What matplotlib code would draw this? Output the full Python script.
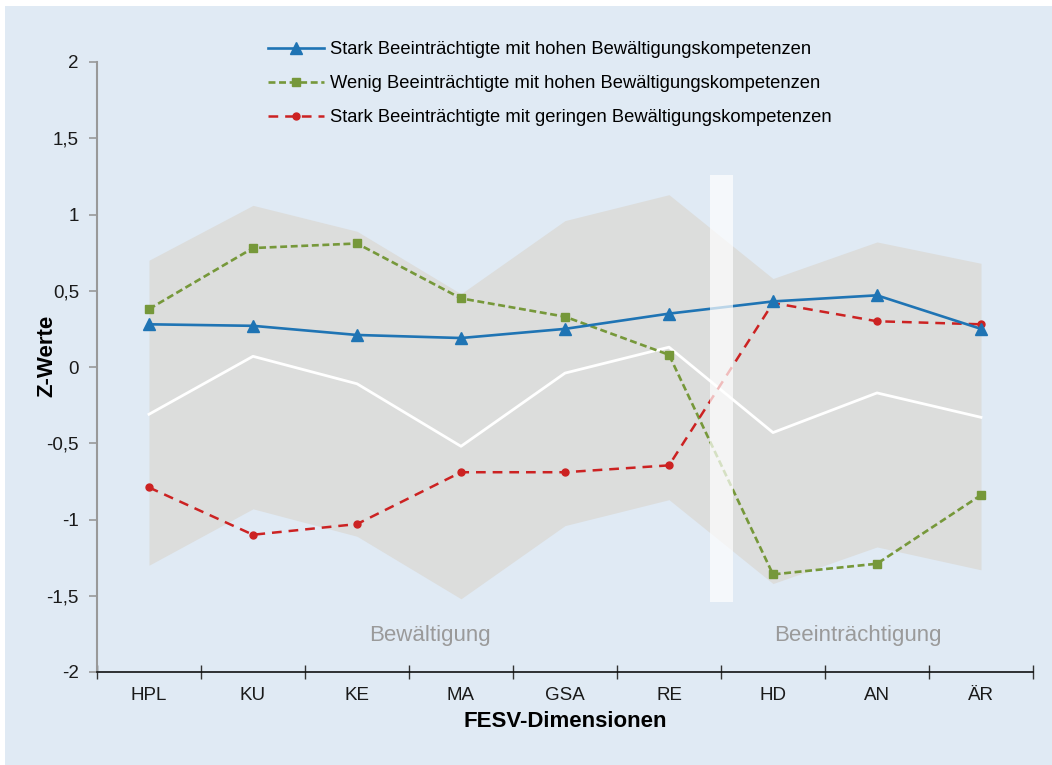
import matplotlib
matplotlib.use("Agg")
import matplotlib.pyplot as plt
from matplotlib.patches import Rectangle

plt.rcParams['font.family'] = ['Liberation Sans', 'DejaVu Sans']
plt.rcParams['lines.scale_dashes'] = False

dimensions = ['HPL', 'KU', 'KE', 'MA', 'GSA', 'RE', 'HD', 'AN', 'ÄR']
band_upper = [0.70, 1.06, 0.89, 0.48, 0.96, 1.13, 0.58, 0.82, 0.68]
band_lower = [-1.30, -0.93, -1.11, -1.52, -1.04, -0.87, -1.42, -1.18, -1.33]
norm_mean = [-0.31, 0.07, -0.11, -0.52, -0.04, 0.13, -0.43, -0.17, -0.33]

stark_hoch = [0.28, 0.27, 0.21, 0.19, 0.25, 0.35, 0.43, 0.47, 0.25]
wenig_hoch = [0.38, 0.78, 0.81, 0.45, 0.33, 0.08, -1.36, -1.29, -0.84]
stark_gering = [-0.79, -1.10, -1.03, -0.69, -0.69, -0.645, 0.42, 0.30, 0.28]

labels = ['Stark Beeinträchtigte mit hohen Bewältigungskompetenzen',
          'Wenig Beeinträchtigte mit hohen Bewältigungskompetenzen',
          'Stark Beeinträchtigte mit geringen Bewältigungskompetenzen']

bg = '#e0eaf4'
fig = plt.figure(figsize=(10.52, 7.65), dpi=100)
fig.patches.append(Rectangle((5 / 1052, 0), 1, 1 - 6 / 765, transform=fig.transFigure,
                             facecolor=bg, edgecolor='none', zorder=-10))

ax = fig.add_axes([97 / 1052, 1 - 672 / 765, 936 / 1052, 610 / 765])
ax.set_facecolor(bg)
ax.patch.set_alpha(0)

x = list(range(len(dimensions)))
ax.fill_between(x, band_lower, band_upper, color='#dcdddc', lw=0, zorder=1)
ax.plot(x, norm_mean, color='white', lw=2.0, zorder=2)

ax.plot(x, stark_hoch, color='#1f74b4', lw=1.9, marker='^', ms=8.5, zorder=4, label=labels[0])
ax.plot(x, wenig_hoch, color='#76983a', lw=1.9, dashes=(5, 2.6), marker='s', ms=5.5, zorder=3, label=labels[1])
ax.plot(x, stark_gering, color='#cc2222', lw=1.8, dashes=(7, 5), marker='o', ms=5, zorder=3, label=labels[2])

# white separator between coping and impairment dimensions
ax.add_patch(Rectangle((5.39, -1.54), 0.23, 2.8, facecolor='white', alpha=0.7, lw=0, zorder=5))

ax.text(2.70, -1.76, 'Bewältigung', color='#9a9a9a', fontsize=16, ha='center', va='center')
ax.text(6.82, -1.76, 'Beeinträchtigung', color='#9a9a9a', fontsize=16, ha='center', va='center')

ax.set_xlim(-0.5, 8.5)
ax.set_ylim(-2, 2)
ax.set_xticks([i - 0.5 for i in range(len(dimensions) + 1)])
ax.set_xticklabels([])
ax.set_xticks(x, minor=True)
ax.set_xticklabels(dimensions, minor=True, fontsize=13.5, color='#1a1a1a')
ax.tick_params(axis='x', which='major', direction='inout', length=10, width=1, color='#333333')
ax.tick_params(axis='x', which='minor', length=0, pad=11)

yt = [-2, -1.5, -1, -0.5, 0, 0.5, 1, 1.5, 2]
ax.set_yticks(yt)
ax.set_yticklabels([('%g' % v).replace('.', ',') for v in yt], fontsize=13.5, color='#1a1a1a')
ax.tick_params(axis='y', direction='out', length=6, width=1.2, color='#999999', pad=7)

for s in ['top', 'right']:
    ax.spines[s].set_visible(False)
ax.spines['left'].set_color('#999999')
ax.spines['left'].set_linewidth(1.5)
ax.spines['bottom'].set_color('#111111')
ax.spines['bottom'].set_linewidth(1.2)

ax.set_xlabel('FESV-Dimensionen', fontsize=16, fontweight='bold', labelpad=5)
ax.set_ylabel('Z-Werte', fontsize=16, fontweight='bold')
ax.yaxis.set_label_coords(-40 / 936, 0.518)

leg = ax.legend(loc='upper left', bbox_to_anchor=(251 / 1052, 1 - 25 / 765),
                bbox_transform=fig.transFigure, frameon=False, fontsize=13.2,
                handlelength=3.1, handletextpad=0.3, labelspacing=0.92)

fig.savefig('out.png', dpi=100)
